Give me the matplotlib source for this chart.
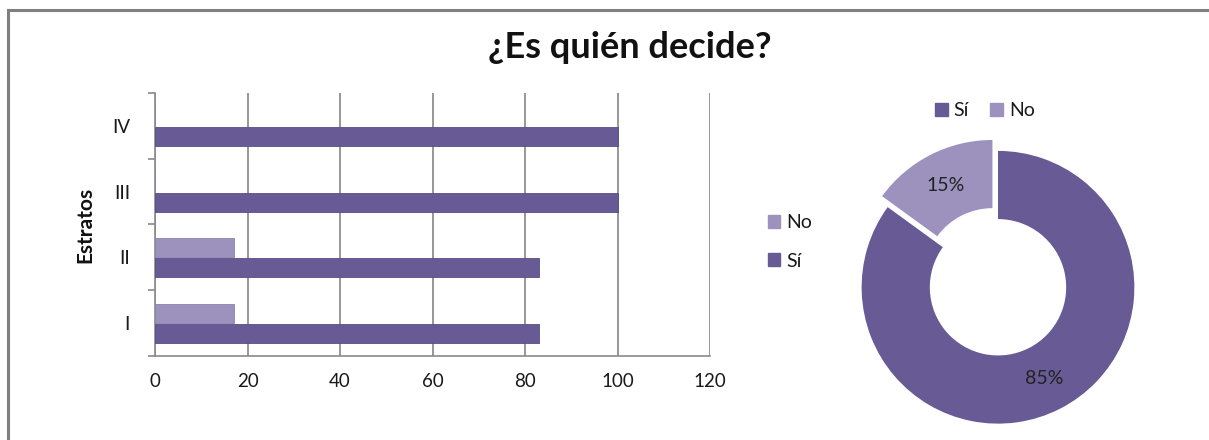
import matplotlib
matplotlib.use("Agg")
import matplotlib.pyplot as plt
from matplotlib.patches import Patch
from matplotlib.lines import Line2D
import numpy as np

# Data
categories = ["I", "II", "III", "IV"]
si_values = [83, 83, 100, 100]
no_values = [17, 17, 0, 0]
donut_labels = ["Sí", "No"]
donut_values = [85, 15]
xticks = [0, 20, 40, 60, 80, 100, 120]

C_SI = "#685A94"
C_NO = "#9D92BE"
FONT = "Lato"
TXT = "#1a1a1a"

plt.rcParams['font.family'] = [FONT, 'DejaVu Sans']

fig = plt.figure(figsize=(12.09, 4.40), dpi=100)

# Outer frame (top and left lines)
fig.add_artist(Line2D([8/1209, 1], [1 - 10/440, 1 - 10/440], transform=fig.transFigure,
                      color="#7f7f7f", lw=2.2))
fig.add_artist(Line2D([8/1209, 8/1209], [0, 1 - 10/440], transform=fig.transFigure,
                      color="#7f7f7f", lw=2.2))

fig.text(630/1209, 1 - 47/440, "¿Es quién decide?", ha="center", va="center",
         fontsize=26, fontweight="bold", color="#111111")

# Bar chart
ax = fig.add_axes([155/1209, 1 - 356/440, 555/1209, 263/440])
y = np.arange(len(categories))
h = 0.29
ax.barh(y - 0.16, si_values, height=h, color=C_SI, edgecolor="#5a4d85", lw=0.6, zorder=3)
ax.barh(y + 0.15, no_values, height=h, color=C_NO, edgecolor="#8c81ad", lw=0.6, zorder=3)
ax.set_xlim(0, 120)
ax.set_ylim(-0.5, 3.5)
ax.set_xticks(xticks)
ax.set_xticklabels([str(v) for v in xticks], fontsize=13.5, color=TXT)
ax.tick_params(axis="x", length=0, pad=12)
ax.set_yticks(y)
ax.set_yticklabels(categories, fontsize=13.5, color=TXT)
ax.set_yticks(np.arange(-0.5, 4.0, 1.0), minor=True)
ax.tick_params(axis="y", which="major", length=0, pad=18)
ax.tick_params(axis="y", which="minor", length=5, color="#8a8a8a", width=1.2)
for s in ["top", "right"]:
    ax.spines[s].set_visible(False)
for s in ["left", "bottom"]:
    ax.spines[s].set_color("#8a8a8a")
    ax.spines[s].set_linewidth(1.2)
ax.xaxis.grid(True, color="#7a7a7a", lw=1.1, zorder=0)
ax.set_axisbelow(True)
ax.set_ylabel("Estratos", fontsize=15, fontweight="bold", labelpad=12, color="#111111")

# Middle legend
fig.legend(handles=[Patch(color=C_NO, label="No"), Patch(color=C_SI, label="Sí")],
           loc="center left", bbox_to_anchor=(750/1209, 1 - 242/440), frameon=False,
           fontsize=14, handlelength=0.65, handleheight=0.65, handletextpad=0.3,
           labelspacing=1.1, labelcolor=TXT)

# Donut
ax2 = fig.add_axes([848/1209, 0, 300/1209, 300/440])
ax2.pie(donut_values, colors=[C_SI, C_NO], startangle=90, counterclock=False,
        explode=[0, 0.09], radius=1.0, wedgeprops=dict(width=0.5, edgecolor="none"),
        autopct="%d%%", pctdistance=0.75, textprops=dict(fontsize=14, color="#222222"))
ax2.set_xlim(-1.1, 1.1)
ax2.set_ylim(-1.12, 1.08)
ax2.set_aspect("equal")
ax2.axis("off")

# Top legend
fig.legend(handles=[Patch(color=C_SI, label="Sí"), Patch(color=C_NO, label="No")],
           loc="center", bbox_to_anchor=(985/1209, 1 - 111/440), ncol=2, frameon=False,
           fontsize=14, handlelength=0.65, handleheight=0.65, handletextpad=0.3,
           columnspacing=1.1, labelcolor=TXT)

fig.savefig("out.png", dpi=100)
